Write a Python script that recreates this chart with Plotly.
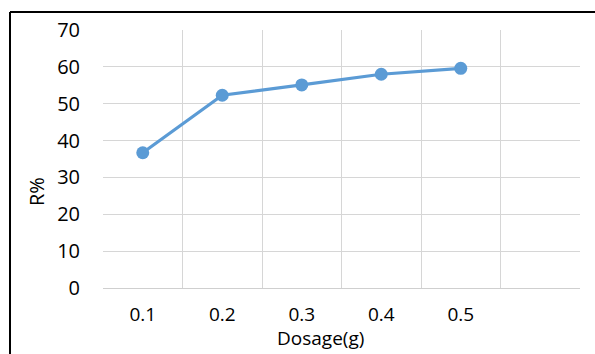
import plotly.graph_objects as go

# Removal percentage against adsorbent dosage
dosage_labels = ["0.1", "0.2", "0.3", "0.4", "0.5"]
axis_categories = dosage_labels + [" "]  # one extra empty slot on the right
removal_pct = [36.7, 52.3, 55.1, 58.0, 59.6]
y_ticks = [0, 10, 20, 30, 40, 50, 60, 70]

LINE_BLUE = "#5B9BD5"
GRID = "#D6D6D6"
FONT = "Open Sans"

fig = go.Figure(
    go.Scatter(
        x=dosage_labels,
        y=removal_pct,
        mode="lines+markers",
        line=dict(color=LINE_BLUE, width=3.2),
        marker=dict(color=LINE_BLUE, size=13),
        showlegend=False,
    )
)

L, R, T, B = 103, 15, 30, 66
W, H = 595, 354
pw, ph = W - L - R, H - T - B

fig.update_layout(
    width=W,
    height=H,
    margin=dict(l=L, r=R, t=T, b=B),
    paper_bgcolor="white",
    plot_bgcolor="white",
    font=dict(family=FONT, size=20, color="black"),
    xaxis=dict(
        type="category",
        categoryorder="array",
        categoryarray=axis_categories,
        range=[-0.5, len(axis_categories) - 0.5],
        tickson="boundaries",
        showgrid=True,
        gridcolor=GRID,
        gridwidth=1.4,
        ticks="",
        showline=True,
        linecolor="#CFCFCF",
        linewidth=1.4,
        ticklabelstandoff=9,
        tickfont=dict(size=19),
        fixedrange=True,
    ),
    yaxis=dict(
        range=[0, 70],
        tickvals=y_ticks,
        showgrid=True,
        gridcolor=GRID,
        gridwidth=1.4,
        zeroline=False,
        ticks="",
        showline=False,
        ticklabelstandoff=22,
        tickfont=dict(size=20),
        fixedrange=True,
    ),
    annotations=[
        dict(
            text="Dosage(g)",
            x=(320 - L) / pw,
            y=-(353 - (H - B)) / ph,
            xref="paper",
            yref="paper",
            xanchor="center",
            yanchor="bottom",
            showarrow=False,
            font=dict(family=FONT, size=19, color="black"),
        ),
        dict(
            text="R%",
            x=(36 - L) / pw,
            y=((H - B) - 192) / ph,
            xref="paper",
            yref="paper",
            xanchor="center",
            yanchor="middle",
            textangle=-90,
            showarrow=False,
            font=dict(family=FONT, size=20, color="black"),
        ),
    ],
    shapes=[
        # outer frame: left and top edges
        dict(type="line", xref="paper", yref="paper",
             x0=(10 - L) / pw, x1=(10 - L) / pw,
             y0=((H - B) - 12) / ph, y1=-(H + 20 - (H - B)) / ph,
             line=dict(color="black", width=2)),
        dict(type="line", xref="paper", yref="paper",
             x0=(10 - L) / pw, x1=(W + 20 - L) / pw,
             y0=((H - B) - 12) / ph, y1=((H - B) - 12) / ph,
             line=dict(color="black", width=2)),
    ],
)

fig.write_html("out.html")
